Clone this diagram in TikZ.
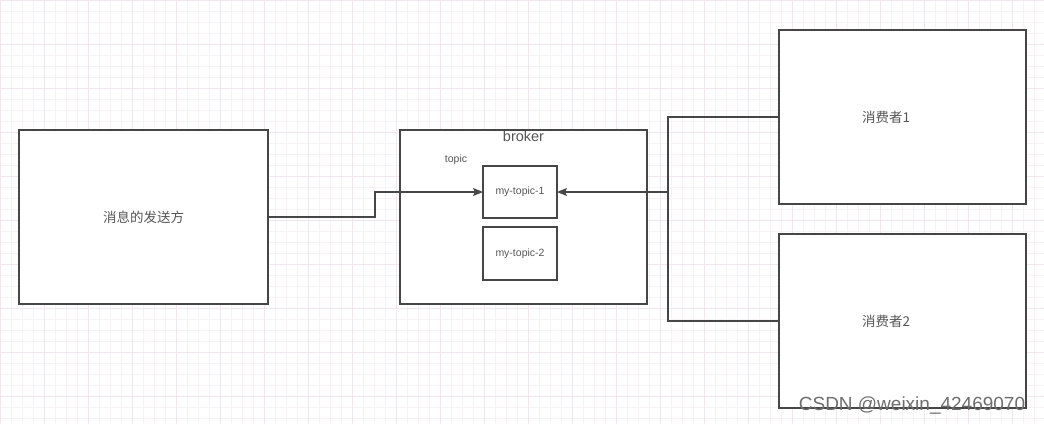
\documentclass[tikz,border=0pt]{standalone}
\usepackage{fontspec}
\setmainfont{Liberation Sans}
\newfontfamily\cjk{Noto Sans CJK SC}
\usetikzlibrary{arrows.meta}
\definecolor{rejilla}{RGB}{247,242,246}
\definecolor{rejillafuerte}{RGB}{240,232,238}
\definecolor{trazo}{RGB}{70,70,70}
\definecolor{texto}{RGB}{85,85,85}
\tikzset{
  caja/.style={draw=trazo, line width=1.4pt, fill=white, inner sep=0pt, outer sep=0pt},
  etiqueta/.style={text=texto, inner sep=0pt},
  flecha/.style={draw=trazo, line width=1.4pt, -{Stealth[length=10pt,width=8pt,inset=2pt]}},
  linea/.style={draw=trazo, line width=1.4pt}
}
\begin{document}
\begin{tikzpicture}[x=1pt, y=-1pt]
        \useasboundingbox (0,0) rectangle (1044,424);
        \fill[white] (0,0) rectangle (1044,424);
        \draw[rejilla, line width=0.6pt] (0,0) grid[step=11pt] (1044,424);
        \draw[rejillafuerte, line width=0.7pt] (0,0) grid[step=44pt] (1044,424);
        % emisor
        \node[caja, minimum width=249, minimum height=174] (emisor) at (143.5,217) {};
        \node[etiqueta, font=\cjk\fontsize{13.5}{16}\selectfont] (emisortxt) at (emisor.center) {消息的发送方};
        % broker
        \node[caja, minimum width=247, minimum height=174] (broker) at (523.5,217) {};
        \node[etiqueta, anchor=north, font=\fontsize{14.5}{16}\selectfont] (brokertxt) at ([yshift=-1pt]broker.north) {broker};
        \node[etiqueta, font=\fontsize{10.5}{12}\selectfont] (topictxt) at (456,160) {topic};
        \node[caja, minimum width=74, minimum height=52, font=\fontsize{10.5}{12}\selectfont, text=texto] (t1) at (520,192) {my-topic-1};
        \node[caja, minimum width=74, minimum height=53, font=\fontsize{10.5}{12}\selectfont, text=texto] (t2) at (520,253.5) {my-topic-2};
        % consumidores
        \node[caja, minimum width=247, minimum height=174] (c1) at (902.5,117) {};
        \node[etiqueta, font=\cjk\fontsize{13.5}{16}\selectfont] (c1txt) at (886,117) {消费者1};
        \node[caja, minimum width=247, minimum height=174] (c2) at (902.5,321) {};
        \node[etiqueta, font=\cjk\fontsize{13.5}{16}\selectfont] (c2txt) at (886,321) {消费者2};
        % conexiones
        \coordinate (quiebre) at (375,217);
        \coordinate (bus) at (668,192);
        \draw[flecha] (emisor.east) -- (quiebre) |- (t1.west);
        \draw[linea] (c1.west) -| (bus);
        \draw[linea] (c2.west) -| (bus);
        \draw[flecha] (bus) -- (t1.east);
        % marca de agua
        \node[text=texto!85, inner sep=0pt, font=\fontsize{19}{21}\selectfont] (marca) at (912,405) {CSDN @weixin\_42469070};
    \end{tikzpicture}
\end{document}
